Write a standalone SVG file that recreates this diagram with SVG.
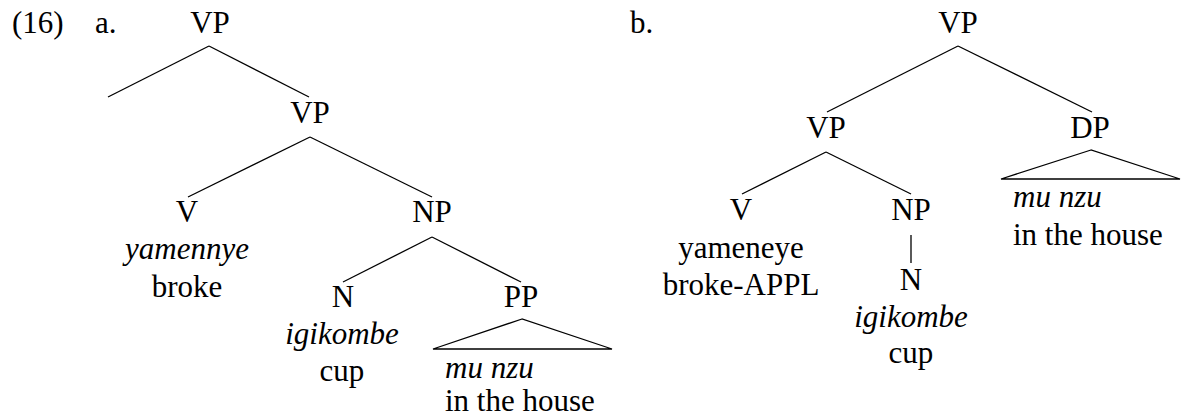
<svg xmlns="http://www.w3.org/2000/svg" width="1181" height="419" viewBox="0 0 1181 419" font-family="'Liberation Serif', 'DejaVu Serif', serif" font-size="31">
<style>
text{font-family:'Liberation Serif','DejaVu Serif',serif;font-size:31px;fill:#000}
.c{text-anchor:middle}
.i{font-style:italic}
line,polygon{stroke:#000;stroke-width:1.3;fill:none}
</style>
<rect width="1181" height="419" fill="#fff"/>
<text x="12" y="33">(16)</text>
<text x="95" y="33">a.</text>
<text x="630" y="33">b.</text>
<g id="connectors">
<line x1="209" y1="46" x2="108" y2="97"/>
<line x1="209" y1="46" x2="309" y2="97"/>
<line x1="310" y1="137" x2="188" y2="197"/>
<line x1="310" y1="137" x2="432" y2="197"/>
<line x1="432" y1="237" x2="343" y2="282"/>
<line x1="432" y1="237" x2="521" y2="282"/>
<line x1="958" y1="46" x2="827" y2="112"/>
<line x1="958" y1="46" x2="1092" y2="112"/>
<line x1="826" y1="152" x2="742" y2="194"/>
<line x1="826" y1="152" x2="911" y2="194"/>
<line x1="911" y1="235" x2="911" y2="263"/>
</g>
<g id="a-vp"><text class="c" x="210" y="33">VP</text></g>
<g id="a-vp2"><text class="c" x="310" y="123">VP</text></g>
<g id="a-v"><text class="c" x="187" y="222">V</text><text class="c i" x="187" y="259">yamennye</text><text class="c" x="187" y="297">broke</text></g>
<g id="a-np"><text class="c" x="432" y="222">NP</text></g>
<g id="a-n"><text class="c" x="343" y="307">N</text><text class="c i" x="342" y="344">igikombe</text><text class="c" x="342" y="381">cup</text></g>
<g id="a-pp"><text class="c" x="521" y="307">PP</text><polygon points="522,319 433,349 612,349"/><text class="i" x="445" y="378">mu nzu</text><text x="445" y="411">in the house</text></g>
<g id="b-vp"><text class="c" x="958" y="33">VP</text></g>
<g id="b-vp2"><text class="c" x="826" y="138">VP</text></g>
<g id="b-v"><text class="c" x="741" y="220">V</text><text class="c" x="741" y="258">yameneye</text><text class="c" x="741" y="295">broke-APPL</text></g>
<g id="b-np"><text class="c" x="911" y="220">NP</text></g>
<g id="b-n"><text class="c" x="911" y="290">N</text><text class="c i" x="911" y="327">igikombe</text><text class="c" x="911" y="363">cup</text></g>
<g id="b-dp"><text class="c" x="1090" y="138">DP</text><polygon points="1091,150 1001,179 1180,179"/><text class="i" x="1013" y="207">mu nzu</text><text x="1013" y="245">in the house</text></g>
</svg>
